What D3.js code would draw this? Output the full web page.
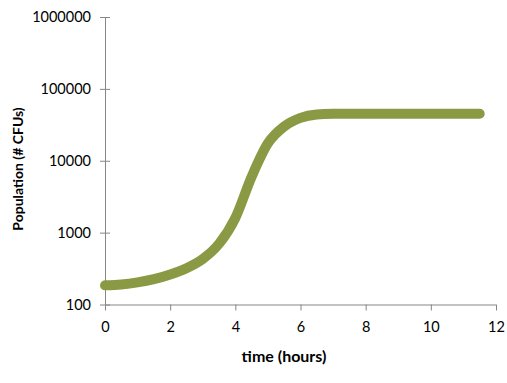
<!DOCTYPE html>
<html><head><meta charset="utf-8">
<script src="https://cdn.jsdelivr.net/npm/d3@7"></script>
<style>
html,body{margin:0;padding:0;background:#fff;}
text{font-family:Lato,"Liberation Sans",sans-serif;}
</style></head>
<body>
<svg id="c" width="507" height="383"></svg>
<script>
const times = [0,0.5,1,1.5,2,2.5,3,3.5,4,4.5,5,5.5,6,6.5,7,7.5,8,8.5,9,9.5,10,10.5,11,11.5];
const population = [185,190,203,225,262,320,430,700,1600,6000,17500,30000,39500,44000,45000,45200,45200,45200,45200,45200,45200,45200,45200,45200];
const xTicks = [0,2,4,6,8,10,12];
const yTicks = [100,1000,10000,100000,1000000];
const xTitle = "time (hours)";
const yTitle = "Population (# CFUs)";

const svg = d3.select("#c");
const x = d3.scaleLinear().domain([0,12]).range([105,496]);
const y = d3.scaleLog().domain([100,1000000]).range([304.5,17]);
const axisColor = "#868686";

// y axis
const ya = svg.append("g").attr("transform","translate(105,0)")
  .call(d3.axisLeft(y).tickValues(yTicks).tickSize(5).tickFormat(d3.format("d")));
ya.select(".domain").attr("stroke",axisColor).attr("d",`M0.5,${y(1000000)}V${y(100)}`);
ya.selectAll(".tick line").attr("stroke",axisColor).attr("x1",5).attr("x2",-5);
ya.selectAll(".tick text").attr("x",-14).attr("font-size","14.5px").attr("fill","#000")
  .attr("font-family","Lato,'Liberation Sans',sans-serif");

// x axis
const xa = svg.append("g").attr("transform",`translate(0,${y(100)})`)
  .call(d3.axisBottom(x).tickValues(xTicks).tickSize(6).tickFormat(d3.format("d")));
xa.select(".domain").attr("stroke",axisColor).attr("d",`M${x(0)},0.5H${x(12)}`);
xa.selectAll(".tick line").attr("stroke",axisColor);
xa.selectAll(".tick text").attr("y",17).attr("font-size","14.5px").attr("fill","#000")
  .attr("font-family","Lato,'Liberation Sans',sans-serif");

// line
const line = d3.line().x((d,i)=>x(times[i])).y(d=>y(d)).curve(d3.curveMonotoneX);
svg.append("path").datum(population).attr("d",line)
  .attr("fill","none").attr("stroke","#8A9A44").attr("stroke-width",10)
  .attr("stroke-linecap","round").attr("stroke-linejoin","round");

// titles
svg.append("text").attr("x",284).attr("y",362).attr("text-anchor","middle")
  .attr("font-weight","bold").attr("font-size","16px").text(xTitle);
svg.append("text").attr("transform","translate(23,169) rotate(-90)").attr("text-anchor","middle")
  .attr("font-weight","bold").attr("font-size","14px").text(yTitle);
</script>
</body></html>
